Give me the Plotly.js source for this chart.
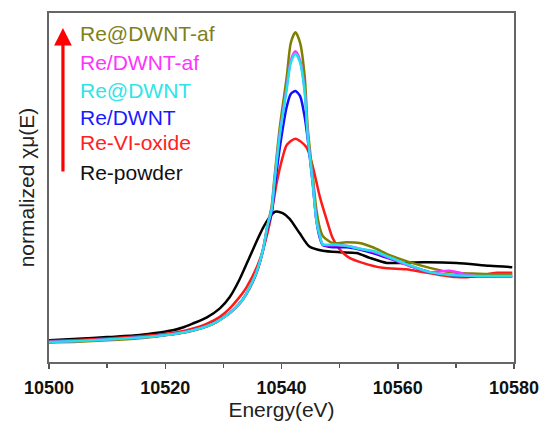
<!DOCTYPE html>
<html><head><meta charset="utf-8">
<script src="https://cdn.plot.ly/plotly-3.0.1.min.js"></script>
<style>html,body{margin:0;padding:0;background:#fff}#chart{width:541px;height:423px}</style>
</head><body><div id="chart"></div>
<script>
// Series: energy (eV) and normalized chi-mu(E)
const seriesNames = ["Re-powder", "Re-VI-oxide", "Re/DWNT", "Re@DWNT-af", "Re/DWNT-af", "Re@DWNT"];
const seriesColors = ["#000000", "#ff1a1a", "#1010ff", "#808000", "#ff30ff", "#20e0ec"];

const powderE = [10500, 10505, 10510, 10515.6, 10519, 10521.3, 10523, 10524.7, 10527.1, 10529.4, 10531.1, 10532.8, 10534.5, 10535.7, 10536.8, 10538.0, 10538.9, 10540.2, 10541.4, 10543.1, 10544.8, 10547.1, 10550.0, 10552.9, 10555.2, 10558.1, 10560.8, 10564.3, 10570.1, 10575.8, 10579.7];
const powderY = [0.01, 0.03, 0.055, 0.085, 0.12, 0.15, 0.19, 0.245, 0.33, 0.46, 0.62, 0.87, 1.18, 1.40, 1.59, 1.75, 1.82, 1.80, 1.72, 1.52, 1.33, 1.27, 1.25, 1.24, 1.17, 1.10, 1.10, 1.11, 1.10, 1.06, 1.04];

const oxideE = [10500, 10505, 10510, 10515.6, 10519, 10522, 10524.5, 10527.1, 10529.4, 10531.1, 10532.6, 10534.0, 10536.25, 10537.97, 10539.2, 10540.2, 10540.9, 10542.4, 10544.3, 10545.4, 10546.6, 10547.8, 10548.8, 10550.0, 10551.7, 10553.95, 10557.4, 10561.5, 10564.3, 10567.2, 10570.1, 10572.3, 10574.6, 10577.0, 10579.7];
const oxideY = [0.0, 0.015, 0.035, 0.065, 0.09, 0.125, 0.17, 0.24, 0.34, 0.46, 0.60, 0.76, 1.14, 1.66, 2.24, 2.59, 2.76, 2.85, 2.73, 2.45, 2.03, 1.70, 1.45, 1.29, 1.17, 1.10, 1.03, 1.01, 0.97, 0.93, 0.90, 0.90, 0.93, 0.96, 0.96];

const dwntE = [10500, 10505, 10510, 10515.6, 10519, 10522, 10524.5, 10526.5, 10528.5, 10530.2, 10532.0, 10533.3, 10534.5, 10535.7, 10536.8, 10537.6, 10538.3, 10538.8, 10539.7, 10540.9, 10541.6, 10542.4, 10543.2, 10544.0, 10544.5, 10545.4, 10546.0, 10546.6, 10547.1, 10548.8, 10551.2, 10553.4, 10555.7, 10558.6, 10562.0, 10565.5, 10568.9, 10572.85, 10577.0, 10579.7];
const dwntY = [-0.015, 0.0, 0.02, 0.05, 0.075, 0.105, 0.145, 0.19, 0.255, 0.34, 0.46, 0.58, 0.74, 0.96, 1.27, 1.60, 1.80, 2.15, 2.72, 3.30, 3.48, 3.52, 3.45, 3.15, 2.85, 2.20, 1.70, 1.45, 1.35, 1.32, 1.32, 1.29, 1.24, 1.16, 1.06, 0.97, 0.93, 0.91, 0.91, 0.91];

const dwntAfE = dwntE;
const dwntAfY = [-0.02, -0.01, 0.01, 0.04, 0.07, 0.10, 0.14, 0.185, 0.25, 0.34, 0.46, 0.58, 0.75, 0.97, 1.28, 1.63, 1.90, 2.31, 3.01, 3.72, 4.20, 4.35, 4.20, 3.72, 3.01, 2.31, 1.85, 1.59, 1.48, 1.38, 1.39, 1.38, 1.32, 1.21, 1.11, 1.03, 0.97, 0.95, 0.94, 0.94];

const slashAfE = dwntE;
const slashAfY = [-0.015, 0.0, 0.02, 0.05, 0.075, 0.105, 0.145, 0.19, 0.255, 0.34, 0.46, 0.58, 0.75, 0.97, 1.28, 1.63, 1.86, 2.26, 2.92, 3.58, 3.95, 4.08, 3.95, 3.52, 2.92, 2.22, 1.71, 1.48, 1.36, 1.35, 1.34, 1.30, 1.26, 1.17, 1.06, 0.97, 0.99, 0.92, 0.91, 0.91];

const atE = dwntE;
const atY = [-0.015, 0.0, 0.02, 0.05, 0.075, 0.105, 0.145, 0.19, 0.255, 0.34, 0.46, 0.58, 0.75, 0.97, 1.28, 1.63, 1.85, 2.25, 2.90, 3.55, 3.92, 4.05, 3.92, 3.50, 2.90, 2.20, 1.70, 1.48, 1.36, 1.36, 1.34, 1.30, 1.27, 1.18, 1.07, 0.97, 0.93, 0.915, 0.915, 0.915];

const xs = [powderE, oxideE, dwntE, dwntAfE, slashAfE, atE];
const ys = [powderY, oxideY, dwntY, dwntAfY, slashAfY, atY];

// Labels drawn top to bottom
const labelTexts = ["Re@DWNT-af", "Re/DWNT-af", "Re@DWNT", "Re/DWNT", "Re-VI-oxide", "Re-powder"];
const labelColors = ["#80801a", "#ff33ff", "#30e4e8", "#1a1aff", "#ff2020", "#111111"];

const xTickVals = [10500, 10520, 10540, 10560, 10580];

const traces = xs.map((x, i) => ({
  x: x, y: ys[i], type: 'scatter', mode: 'lines', name: seriesNames[i],
  line: {color: seriesColors[i], width: 2.5, shape: 'spline', smoothing: 0.7},
  showlegend: false, hoverinfo: 'skip'
}));

const labelY = [0.940, 0.857, 0.779, 0.702, 0.628, 0.544];
const annotations = labelTexts.map((t, i) => ({
  text: t, xref: 'paper', yref: 'paper', x: 0.062, y: labelY[i],
  xanchor: 'left', yanchor: 'middle', showarrow: false,
  font: {family: 'Liberation Sans, Arial, sans-serif', size: 21, color: labelColors[i]}
}));
annotations.push({
  text: '', xref: 'paper', yref: 'paper', x: 0.030, y: 0.957,
  ax: 0, ay: 145, showarrow: true, arrowhead: 2, arrowsize: 1.1,
  arrowwidth: 3.2, arrowcolor: '#ff0000', standoff: 0
});

const layout = {
  width: 541, height: 423,
  margin: {l: 49, r: 27, t: 13, b: 61},
  paper_bgcolor: '#ffffff', plot_bgcolor: '#ffffff',
  font: {family: 'Liberation Sans, Arial, sans-serif', color: '#000'},
  xaxis: {
    range: [10500, 10580], tickvals: xTickVals, ticktext: xTickVals.map(String),
    ticks: 'outside', ticklen: 5, tickwidth: 1.5, tickcolor: '#555',
    minor: {dtick: 10, tick0: 10500, ticks: 'outside', ticklen: 3.5, tickwidth: 1.5, tickcolor: '#555', showgrid: false},
    showline: true, linecolor: '#666', linewidth: 2, mirror: true,
    showgrid: false, zeroline: false, ticklabelstandoff: 3,
    tickfont: {size: 18, family: 'Liberation Sans, Arial, sans-serif', weight: 'bold', color: '#111'},
    title: {text: 'Energy(eV)', font: {size: 21, color: '#222'}, standoff: 5}
  },
  yaxis: {
    range: [-0.296, 4.62], showticklabels: false, ticks: '',
    showline: true, linecolor: '#666', linewidth: 2, mirror: true,
    showgrid: false, zeroline: false,
    title: {text: 'normalized χμ(E)', font: {size: 21, color: '#222'}, standoff: 7}
  },
  annotations: annotations
};

Plotly.newPlot('chart', traces, layout, {displayModeBar: false, staticPlot: true});
</script></body></html>
